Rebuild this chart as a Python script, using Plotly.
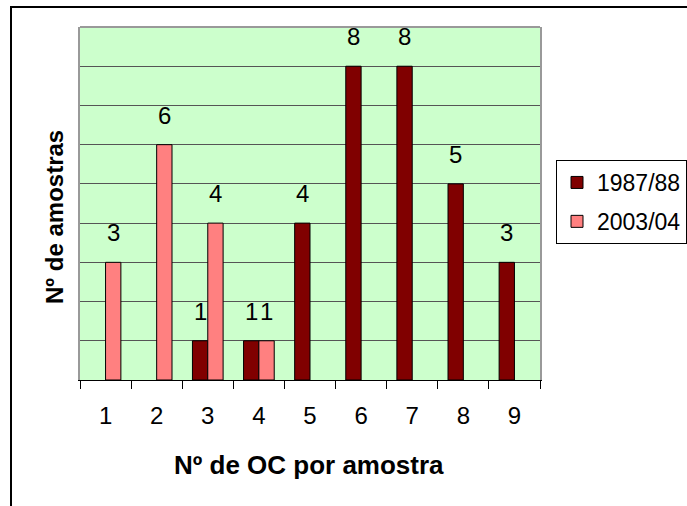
import plotly.graph_objects as go

categories = ["1", "2", "3", "4", "5", "6", "7", "8", "9"]
series_names = ["1987/88", "2003/04"]
values_1987 = [0, 0, 1, 1, 4, 8, 8, 5, 3]
values_2003 = [3, 6, 4, 1, 0, 0, 0, 0, 0]
colors = ["#800000", "#FF8080"]

FONT = "Liberation Sans, Arial, sans-serif"
W, H = 687, 506
ML, MR, MT, MB = 80, 147, 27, 126
PW = W - ML - MR
PH = H - MT - MB
BARGAP = 0.4

fig = go.Figure()
for i, (name, vals) in enumerate(zip(series_names, [values_1987, values_2003])):
    fig.add_trace(go.Bar(
        x=categories, y=[v if v else None for v in vals], name=name,
        marker=dict(color=colors[i], line=dict(color="black", width=1)),
        legendgroup=name,
    ))

# value labels above bars
cat_w = PW / len(categories)
bar_w = cat_w * (1 - BARGAP) / 2
annotations = []
for i, vals in enumerate([values_1987, values_2003]):
    shift = (-0.5 + i) * bar_w
    for idx, v in enumerate(vals):
        if v:
            annotations.append(dict(
                x=idx, y=v, xref="x", yref="y", text=str(v), showarrow=False,
                yanchor="bottom", xanchor="center", xshift=shift, yshift=14,
                font=dict(family=FONT, size=24, color="black"),
            ))

annotations.append(dict(
    text="<b>Nº de OC por amostra</b>", x=(309 - ML) / PW, y=(-(465 - (H - MB)) / PH),
    xref="paper", yref="paper", showarrow=False, xanchor="center", yanchor="middle",
    font=dict(family=FONT, size=26, color="black"),
))
annotations.append(dict(
    text="<b>Nº de amostras</b>", x=(55 - ML) / PW, y=((H - MB) - 217) / PH,
    xref="paper", yref="paper", showarrow=False, xanchor="center", yanchor="middle",
    textangle=-90, font=dict(family=FONT, size=24, color="black"),
))

fig.update_layout(
    width=W, height=H,
    margin=dict(l=ML, r=MR, t=MT, b=MB, pad=0, autoexpand=False),
    paper_bgcolor="white", plot_bgcolor="#CCFFCC",
    barmode="group", bargap=BARGAP, bargroupgap=0,
    font=dict(family=FONT, size=24, color="black"),
    showlegend=True,
    legend=dict(
        x=(556 - ML) / PW, y=((H - MB) - 160) / PH, xanchor="left", yanchor="top",
        bgcolor="white", bordercolor="black", borderwidth=1,
        font=dict(family=FONT, size=23, color="black"),
        tracegroupgap=6, traceorder="grouped",
    ),
    xaxis=dict(
        type="category", range=[-0.5, 8.5], tickson="boundaries", ticks="outside", ticklen=8,
        tickcolor="black", tickwidth=1, showline=True, linecolor="black", linewidth=1,
        showgrid=False, ticklabelstandoff=14,
        tickfont=dict(family=FONT, size=24, color="black"),
    ),
    yaxis=dict(
        range=[0, 9], dtick=1, showticklabels=False, ticks="",
        showgrid=True, gridcolor="#555555", gridwidth=1, zeroline=False,
        showline=True, linecolor="#999999", linewidth=2, mirror=True,
    ),
    annotations=annotations,
    shapes=[
        dict(type="line", xref="paper", yref="paper", x0=0, x1=1, y0=1, y1=1,
             line=dict(color="#999999", width=2), layer="above"),
        dict(type="rect", xref="paper", yref="paper",
             x0=(11 - ML) / PW, x1=1.6, y0=-0.6, y1=((H - MB) - 7) / PH,
             line=dict(color="black", width=2), layer="above"),
    ],
)

fig.write_html("out.html", config={"displayModeBar": False},
               post_script="document.body.style.margin='0';")
